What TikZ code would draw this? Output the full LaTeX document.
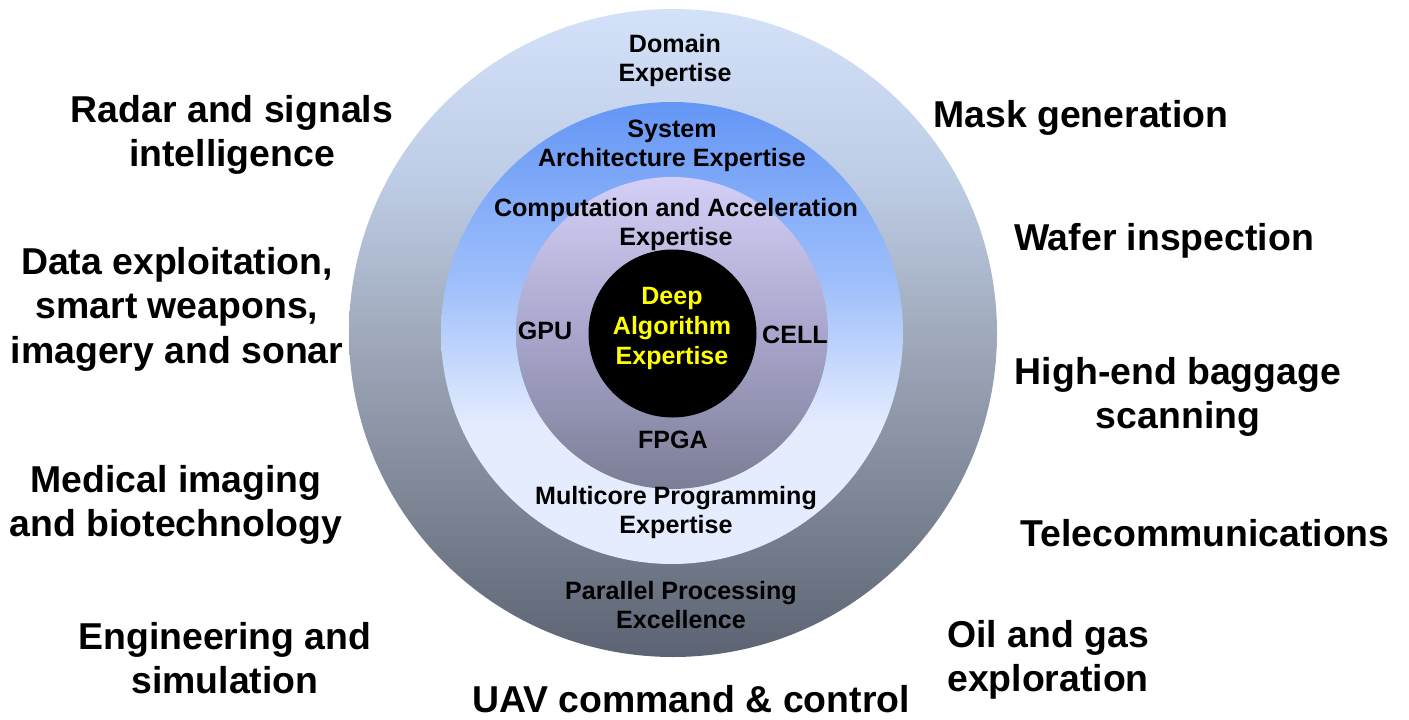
\documentclass[tikz,border=0pt]{standalone}
\usepackage{fontspec}
\setmainfont{Liberation Sans}
\definecolor{outT}{RGB}{211,226,249}
\definecolor{outU}{RGB}{190,205,230}
\definecolor{outM}{RGB}{160,170,188}
\definecolor{outL}{RGB}{122,131,146}
\definecolor{outB}{RGB}{92,100,116}
\definecolor{bluT}{RGB}{100,150,246}
\definecolor{bluM}{RGB}{160,192,251}
\definecolor{bluB}{RGB}{228,236,253}
\definecolor{lavT}{RGB}{212,207,246}
\definecolor{lavM}{RGB}{168,166,204}
\definecolor{lavB}{RGB}{124,125,150}
\definecolor{yel}{RGB}{255,255,0}
\pgfdeclareverticalshading{outershade}{100bp}{color(0bp)=(outB); color(25bp)=(outB); color(36bp)=(outL); color(50bp)=(outM); color(62bp)=(outU); color(75bp)=(outT); color(100bp)=(outT)}
\pgfdeclareverticalshading{blueshade}{100bp}{color(0bp)=(bluB); color(25bp)=(bluB); color(40bp)=(bluB); color(55bp)=(bluM); color(75bp)=(bluT); color(100bp)=(bluT)}
\pgfdeclareverticalshading{lavshade}{100bp}{color(0bp)=(lavB); color(25bp)=(lavB); color(50bp)=(lavM); color(75bp)=(lavT); color(100bp)=(lavT)}
\tikzset{
  biglabel/.style={font=\fontsize{37.4}{44.5}\selectfont\bfseries, align=center, inner sep=0pt, text=black},
  ringlabel/.style={font=\fontsize{25.1}{29}\selectfont\bfseries, align=center, inner sep=0pt, text=black},
  corelabel/.style={font=\fontsize{25}{30}\selectfont\bfseries, align=center, inner sep=0pt, text=yel}
}
\begin{document}
\begin{tikzpicture}[x=1pt,y=-1pt]
\useasboundingbox (0,0) rectangle (1409,720);
\fill[white] (0,0) rectangle (1409,720);
% rings
\path[shading=outershade] (673,333) circle [radius=324];
\path[shading=blueshade] (672,333) circle [radius=231];
\path[shading=lavshade] (672,333) circle [radius=156];
\fill[black] (672.5,333.5) circle [radius=84];
% ring labels
\node[ringlabel] (domain) at (675,61) {Domain\\Expertise};
\node[ringlabel] (system) at (672,146) {System\\Architecture Expertise};
\node[ringlabel] (comp) at (676,225) {Computation and Acceleration\\Expertise};
\node[corelabel] (deep) at (672,328) {Deep\\Algorithm\\Expertise};
\node[ringlabel] (gpu) at (545,331) {GPU};
\node[ringlabel] (cell) at (795,335) {CELL};
\node[ringlabel] (fpga) at (673,440) {FPGA};
\node[ringlabel] (multi) at (676,513) {Multicore Programming\\Expertise};
\node[ringlabel] (para) at (681,605) {Parallel Processing\\Excellence};
% application labels
\node[biglabel] (radar) at (232,135) {Radar and signals\\intelligence};
\node[biglabel] (data) at (177,309) {Data exploitation,\\smart weapons,\\imagery and sonar};
\node[biglabel] (med) at (176,505) {Medical imaging\\and biotechnology};
\node[biglabel] (eng) at (225,658) {Engineering and\\simulation};
\node[biglabel] (uav) at (691,699) {UAV command \& control};
\node[biglabel] (mask) at (1081,118) {Mask generation};
\node[biglabel] (wafer) at (1164,241) {Wafer inspection};
\node[biglabel] (bag) at (1178,397) {High-end baggage\\scanning};
\node[biglabel] (tele) at (1205,533) {Telecommunications};
\node[biglabel] (oil) at (1048,660) {Oil and gas\\exploration};
\end{tikzpicture}
\end{document}
